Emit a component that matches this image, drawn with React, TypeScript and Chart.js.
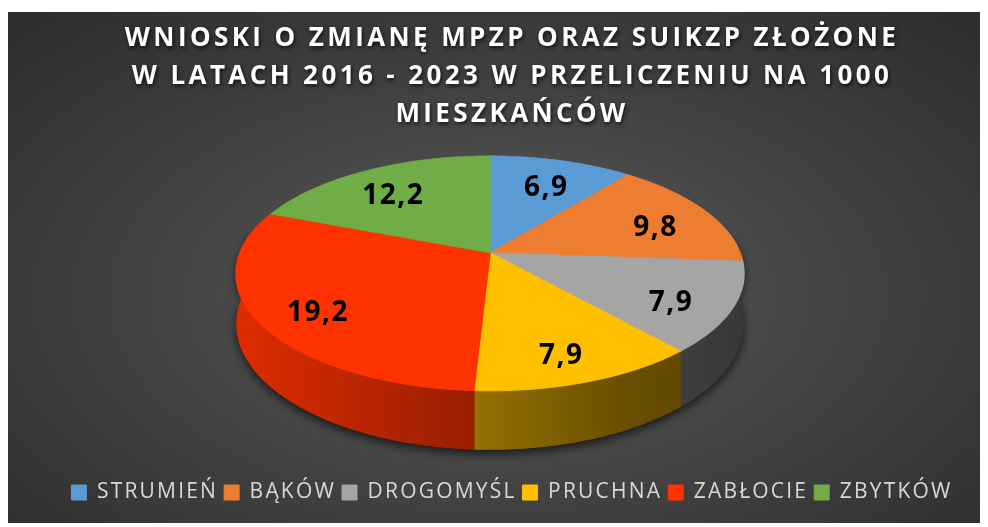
import React, { useEffect, useRef } from 'react';
import { Chart, registerables } from 'chart.js';

Chart.register(...registerables);

const TITLE_LINES = [
  'WNIOSKI O ZMIANĘ MPZP ORAZ SUIKZP ZŁOŻONE',
  'W LATACH 2016 - 2023 W PRZELICZENIU NA 1000',
  'MIESZKAŃCÓW',
];
const CATEGORIES = ['STRUMIEŃ', 'BĄKÓW', 'DROGOMYŚL', 'PRUCHNA', 'ZABŁOCIE', 'ZBYTKÓW'];
const VALUES = [6.9, 9.8, 7.9, 7.9, 19.2, 12.2];
const COLORS = ['#5B9BD5', '#ED7D31', '#A5A5A5', '#FFC000', '#FF3300', '#70AD47'];

// 3D projection look (style constants)
const RADIUS_X = 250;
const TILT = 0.4556;
const PERSP = 0.1745;
const DEPTH = 0.195;
const PIE_DX = -22;
const PIE_DY = -9;
const LABEL_R = 0.76;
const LABEL_DROP = 0.18;

function shade(hex: string, f: number) {
  const n = parseInt(hex.slice(1), 16);
  const r = Math.min(255, Math.round(((n >> 16) & 255) * f));
  const g = Math.min(255, Math.round(((n >> 8) & 255) * f));
  const b = Math.min(255, Math.round((n & 255) * f));
  return `rgb(${r},${g},${b})`;
}
const fmt = (v: number) => v.toFixed(1).replace('.', ',');

const pie3d = {
  id: 'pie3d',
  beforeDatasetsDraw(chart: any) {
    const ctx: CanvasRenderingContext2D = chart.ctx;
    const meta = chart.getDatasetMeta(0);
    const arcs: any[] = meta.data;
    if (!arcs.length) return;
    const area = chart.chartArea;
    const a = RADIUS_X;
    const b = a * TILT;
    const H = a * DEPTH;
    const cx = (area.left + area.right) / 2 + PIE_DX;
    const extTop = b / (1 + PERSP);
    const extBot = (b + H) / (1 - PERSP);
    const cy = (area.top + area.bottom) / 2 - (extBot - extTop) / 2 + PIE_DY;

    const proj = (phi: number, r: number, drop: number) => {
      const X = r * Math.cos(phi);
      const Z = r * Math.sin(phi);
      const s = 1 / (1 - PERSP * Z);
      return [cx + a * X * s, cy + b * Z * s + drop * s];
    };

    const sidePath = (lo: number, hi: number) => {
      const n = Math.max(2, Math.ceil((hi - lo) / 0.01));
      ctx.beginPath();
      for (let k = 0; k <= n; k++) {
        const p = proj(lo + ((hi - lo) * k) / n, 1, 0);
        if (k === 0) ctx.moveTo(p[0], p[1]);
        else ctx.lineTo(p[0], p[1]);
      }
      for (let k = n; k >= 0; k--) {
        const p = proj(lo + ((hi - lo) * k) / n, 1, H);
        ctx.lineTo(p[0], p[1]);
      }
      ctx.closePath();
    };

    const FRONT_LO = -0.2;
    const FRONT_HI = Math.PI + 0.2;

    // shadow under the whole cylinder
    ctx.save();
    ctx.shadowColor = 'rgba(0,0,0,0.65)';
    ctx.shadowBlur = 10;
    ctx.shadowOffsetY = 4;
    sidePath(FRONT_LO, FRONT_HI);
    ctx.fillStyle = '#222';
    ctx.fill();
    ctx.restore();

    // side walls
    arcs.forEach((arc, i) => {
      const lo = Math.max(arc.startAngle, FRONT_LO);
      const hi = Math.min(arc.endAngle, FRONT_HI);
      if (hi <= lo) return;
      const c = COLORS[i];
      const g = ctx.createLinearGradient(cx - a, 0, cx + a, 0);
      g.addColorStop(0, shade(c, 0.87));
      g.addColorStop(0.45, shade(c, 0.6));
      g.addColorStop(0.75, shade(c, 0.42));
      g.addColorStop(1, shade(c, 0.34));
      ctx.save();
      sidePath(lo - 0.003, hi + 0.003);
      ctx.fillStyle = g;
      ctx.fill();
      ctx.restore();
    });

    // top face: the library's own arcs, projected row by row
    const px = arcs[0].x;
    const py = arcs[0].y;
    const R = arcs[0].outerRadius;
    const y0 = Math.floor(cy - extTop) - 1;
    const y1 = Math.ceil(cy + b / (1 - PERSP)) + 1;
    for (let y = y0; y <= y1; y++) {
      const d = y + 0.5 - cy;
      const Z = d / (b + PERSP * d);
      if (Z < -1.05 || Z > 1.05) continue;
      const s = 1 / (1 - PERSP * Z);
      const sx = (a * s) / R;
      const sy = (b * s * s) / R;
      ctx.save();
      ctx.beginPath();
      ctx.rect(0, y, chart.width, 1);
      ctx.clip();
      ctx.transform(sx, 0, 0, sy, cx - sx * px, y + 0.5 - b * s * s * Z - sy * py);
      arcs.forEach((arc) => arc.draw(ctx));
      ctx.restore();
    }

    // value labels
    ctx.save();
    (ctx as any).letterSpacing = '1.5px';
    ctx.font = 'bold 28px "Open Sans"';
    ctx.fillStyle = '#000000';
    ctx.textAlign = 'center';
    ctx.textBaseline = 'middle';
    arcs.forEach((arc, i) => {
      const m = (arc.startAngle + arc.endAngle) / 2;
      const p = proj(m, LABEL_R, H * LABEL_DROP);
      ctx.fillText(fmt(VALUES[i]), p[0], p[1]);
    });
    ctx.restore();
    return false;
  },
};

const textStyle = {
  id: 'textStyle',
  beforeLayout(chart: any) {
    (chart.ctx as any).letterSpacing = '2.2px';
  },
  beforeDraw(chart: any) {
    (chart.ctx as any).letterSpacing = '2.2px';
    const tb = chart.titleBlock;
    if (tb && !tb.__styled) {
      const orig = tb.draw.bind(tb);
      tb.draw = (...args: any[]) => {
        const c = chart.ctx;
        c.save();
        (c as any).letterSpacing = '3.4px';
        c.shadowColor = 'rgba(0,0,0,0.75)';
        c.shadowBlur = 4;
        c.shadowOffsetX = 1;
        c.shadowOffsetY = 2;
        orig(...args);
        c.restore();
      };
      tb.__styled = true;
    }
  },
};

export default function App() {
  const ref = useRef<HTMLCanvasElement>(null);
  useEffect(() => {
    document.body.style.overflow = 'hidden';
    const chart = new Chart(ref.current as HTMLCanvasElement, {
      type: 'pie',
      data: {
        labels: CATEGORIES,
        datasets: [
          {
            data: VALUES,
            backgroundColor: COLORS,
            borderColor: COLORS,
            borderWidth: 1,
          },
        ],
      },
      options: {
        animation: false,
        responsive: true,
        maintainAspectRatio: false,
        events: [],
        layout: { padding: { left: 28, right: 0, top: 0, bottom: 14 } },
        plugins: {
          tooltip: { enabled: false },
          title: {
            display: true,
            text: TITLE_LINES,
            color: '#ffffff',
            font: { family: 'Open Sans', size: 26, weight: 'bold', lineHeight: 1.47 },
            padding: { top: 7, bottom: 14 },
          },
          legend: {
            position: 'bottom',
            labels: {
              color: '#d9d9d9',
              font: { family: 'Open Sans', size: 21 },
              boxWidth: 15,
              boxHeight: 15,
              padding: 6,
            },
          },
        },
      } as any,
      plugins: [pie3d as any, textStyle as any],
    });
    return () => chart.destroy();
  }, []);
  return (
    <div
      style={{
        position: 'relative',
        top: 4,
        width: 980,
        height: 515,
        background: 'radial-gradient(ellipse 75% 80% at 50% 55%, #5c5c5c 0%, #444444 45%, #2a2a2a 100%)',
      }}
    >
      <canvas ref={ref} />
    </div>
  );
}
